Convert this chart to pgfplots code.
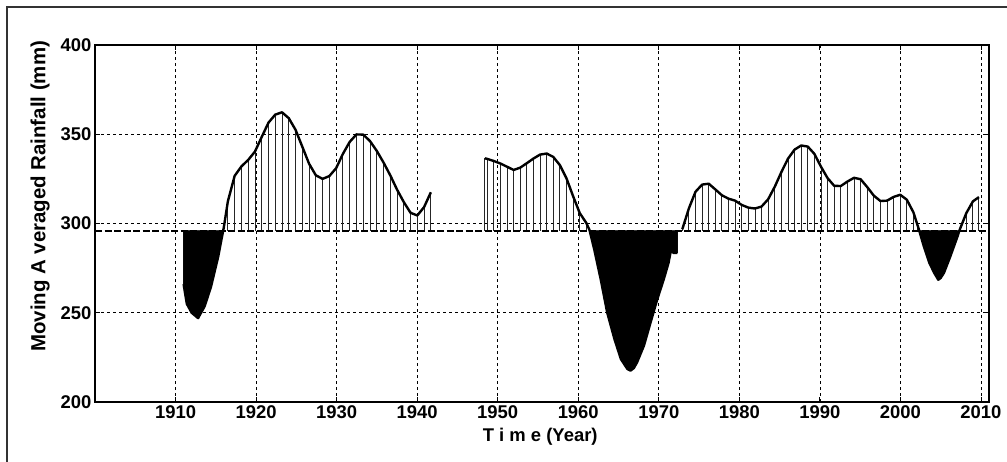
\documentclass[border=0pt]{standalone}
\usepackage{fontspec}
\setmainfont{Liberation Sans}
\usepackage{pgfplots}
\pgfplotsset{compat=1.18}
\usepackage{pgfplotstable}

\pgfplotstableread{
x y
1911.0 266
1911.4 255
1912.0 250
1912.8 247
1913.6 253.5
1914.4 264.5
1915.3 281.5
1915.7 291
1916.0 298
1916.5 312.5
1917.34 326.7
1918.18 332
1919.02 335.6
1919.86 340.3
1920.7 348.5
1921.54 356.5
1922.38 361
1923.22 362.3
1924.06 359
1924.9 352.5
1925.74 343
1926.58 333.5
1927.42 327
1928.26 325
1929.1 326.6
1929.94 331
1930.78 339
1931.62 345.7
1932.46 349.9
1933.3 349.8
1934.14 346.2
1934.98 340.7
1935.82 334.2
1936.66 327
1937.5 319
1938.34 312
1939.18 306
1940.02 304.5
1940.86 309.2
1941.7 317.5
}\segA

\pgfplotstableread{
x y
1948.4 336.5
1948.7 336.2
1949.52 335
1950.34 333.6
1951.16 331.8
1951.98 330
1952.8 331.3
1953.62 333.8
1954.44 336.4
1955.26 338.6
1956.08 339.2
1956.9 337.3
1957.72 332.7
1958.54 325.3
1959.36 315.3
1960.18 305.9
1961.0 300.3
1961.4 296.3
1962.0 285.2
1962.8 268.5
1963.6 250
1964.5 235.2
1965.3 224
1966.1 218.5
1966.5 217.6
1966.9 219
1967.3 222.2
1968.15 231.5
1968.97 244.4
1969.8 257.4
1970.6 268.5
1971.2 277.8
1971.6 287
1971.8 283.5
1972.3 283.5
}\segB

\pgfplotstableread{
x y
1972.92 296.8
1973.74 308.5
1974.56 317.8
1975.38 321.8
1976.2 322.3
1977.02 319.1
1977.84 315.8
1978.66 313.9
1979.48 312.8
1980.3 310.4
1981.12 308.9
1981.94 308.4
1982.76 309.5
1983.58 313.6
1984.4 320.6
1985.22 328.8
1986.04 336.3
1986.86 341.4
1987.68 343.7
1988.5 343.1
1989.32 339
1990.14 331.8
1990.96 325.4
1991.78 321.1
1992.6 321
1993.42 323.5
1994.24 325.6
1995.06 324.8
1995.88 320.4
1996.7 315.6
1997.52 312.6
1998.34 312.8
1999.16 314.9
1999.98 316.1
2000.8 313.3
2001.62 306.2
2002.1 299.4
2002.3 296.6
2002.9 287.3
2003.6 277.9
2004.2 272.3
2004.7 268.5
2005.0 269.5
2005.4 272.3
2006.2 281.6
2007.1 292.9
2007.36 296.5
2008.18 305.8
2009.0 312.4
2009.75 314.8
}\segC

\begin{document}
\begin{tikzpicture}
\begin{axis}[
  scale only axis, width=894bp, height=357bp,
  anchor=south west, at={(95bp,-402bp)},
  xmin=1900, xmax=2011, ymin=200, ymax=400,
  xtick={1910,1920,...,2010}, ytick={200,250,...,400},
  grid=major,
  major grid style={black, line width=0.6bp, dash pattern=on 3bp off 3bp},
  tick align=inside, major tick length=5bp,
  axis line style={line width=1.3bp},
  tick style={black, line width=0.8bp},
  ticklabel style={font=\fontsize{18.5}{20}\selectfont\bfseries},
  /pgf/number format/assume math mode=true,
  /pgf/number format/1000 sep={},
  xlabel={T i m e (Year)},
  ylabel={Moving A veraged Rainfall (mm)},
  xlabel style={font=\fontsize{18.5}{20}\selectfont\bfseries, at={(axis description cs:0.498,-0.098)}, anchor=center},
  ylabel style={font=\fontsize{20.5}{22}\selectfont\bfseries, at={(axis description cs:-0.0615,0.576)}, anchor=center},
]
% stems
\addplot[black!85, line width=0.9bp, quiver={u=0, v=\thisrow{y}-296}] table[x=x, y expr=296] {\segA};
\addplot[black!85, line width=0.9bp, quiver={u=0, v=\thisrow{y}-296}] table[x=x, y expr=296] {\segB};
\addplot[black!85, line width=0.9bp, quiver={u=0, v=\thisrow{y}-296}] table[x=x, y expr=296] {\segC};
% deficit fills
\addplot[fill=black, draw=black, line width=0.5bp] coordinates {
(1911,296) (1911,266) (1911.4,255) (1912,250) (1912.8,247) (1913.6,253.5)
(1914.4,264.5) (1915.3,281.5) (1915.7,291) (1915.9,296)} -- cycle;
\addplot[fill=black, draw=black, line width=0.5bp] coordinates {
(1961.4,296) (1962,285.2) (1962.8,268.5) (1963.6,250) (1964.5,235.2) (1965.3,224)
(1966.1,218.5) (1966.5,217.6) (1966.9,219) (1967.3,222.2) (1968.15,231.5)
(1968.97,244.4) (1969.8,257.4) (1970.6,268.5) (1971.2,277.8) (1971.6,287)
(1971.8,283.5) (1972.3,283.5) (1972.3,296)} -- cycle;
\addplot[fill=black, draw=black, line width=0.5bp] coordinates {
(2002.3,296) (2002.9,287.3) (2003.6,277.9) (2004.2,272.3) (2004.7,268.5)
(2005,269.5) (2005.4,272.3) (2006.2,281.6) (2007.1,292.9) (2007.3,296)} -- cycle;
% long-term mean
\addplot[black, line width=2bp, dash pattern=on 7bp off 2.5bp] coordinates {(1900,296) (2011,296)};
% moving average curve
\addplot[black, line width=2.4bp, line join=round] table {\segA};
\addplot[black, line width=2.4bp, line join=round] table {\segB};
\addplot[black, line width=2.4bp, line join=round] table {\segC};
\end{axis}
\draw[line width=1.6bp, black!80] (7bp,-470bp) -- (7bp,-7bp) -- (1015bp,-7bp);
\pgfresetboundingbox
\path[use as bounding box] (0,0) rectangle (1007bp,-462bp);
\end{tikzpicture}
\end{document}
